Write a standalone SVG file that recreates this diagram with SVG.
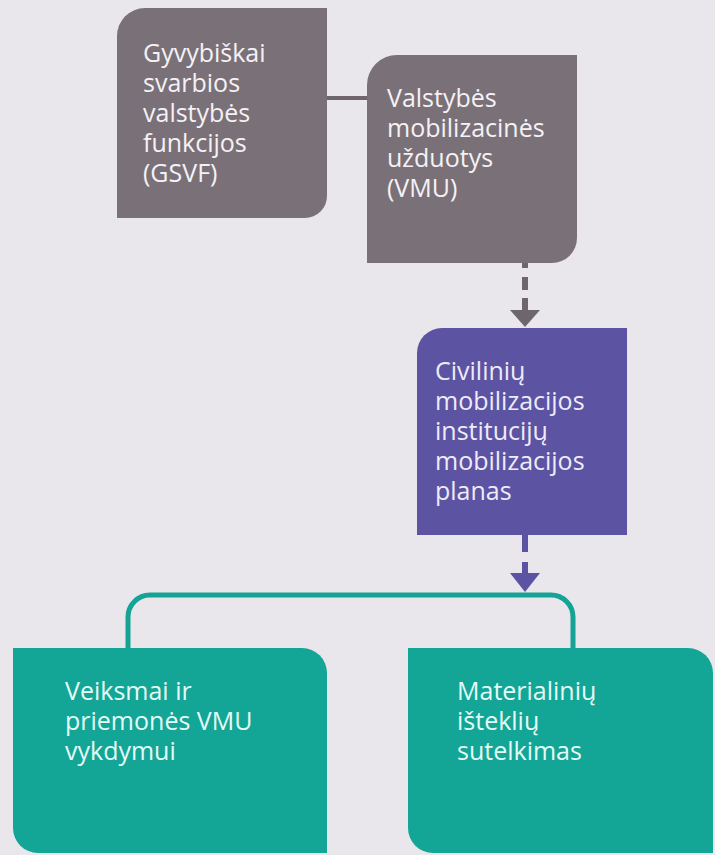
<svg xmlns="http://www.w3.org/2000/svg" width="715" height="855" viewBox="0 0 715 855">
<style>
.t{font-family:"Open Sans","Noto Sans","DejaVu Sans",sans-serif;font-size:25px;}
.tg{fill:#f5f1f5;}
.tp{fill:#eeebf8;}
.tt{fill:#e4fbf6;}
</style>
<rect x="0" y="0" width="715" height="855" fill="#e9e7eb"/>
<g id="connectors">
<path d="M327,98 H367" stroke="#6e666c" stroke-width="4" fill="none"/>
<path d="M525,263 V268 M525,277 V290 M525,298 V312" stroke="#6e666c" stroke-width="6" fill="none"/>
<polygon points="510,310 540,310 525,327" fill="#6e666c"/>
<path d="M525,535 V552 M525,562 V575" stroke="#5d53a3" stroke-width="6" fill="none"/>
<polygon points="510,573 540,573 525,592" fill="#5d53a3"/>
<path d="M128,648 V617 A22,22 0 0 1 150,595 H551 A22,22 0 0 1 573,617 V648" stroke="#15a396" stroke-width="5" fill="none"/>
</g>
<g id="gsvf">
<path d="M117,36 A28,28 0 0 1 145,8 H327 V196 A22,22 0 0 1 305,218 H117 Z" fill="#7a7178"/>
<text class="t tg"><tspan x="143" y="62">Gyvybiškai</tspan><tspan x="143" y="92">svarbios</tspan><tspan x="143" y="122">valstybės</tspan><tspan x="143" y="152">funkcijos</tspan><tspan x="143" y="182">(GSVF)</tspan></text>
</g>
<g id="vmu">
<path d="M367,85 A30,30 0 0 1 397,55 H577 V238 A25,25 0 0 1 552,263 H367 Z" fill="#7a7178"/>
<text class="t tg"><tspan x="387" y="107">Valstybės</tspan><tspan x="387" y="137">mobilizacinės</tspan><tspan x="387" y="167">užduotys</tspan><tspan x="387" y="197">(VMU)</tspan></text>
</g>
<g id="planas">
<path d="M417,353 A25,25 0 0 1 442,328 H627 V535 H417 Z" fill="#5d53a3"/>
<text class="t tp"><tspan x="435" y="380">Civilinių</tspan><tspan x="435" y="410">mobilizacijos</tspan><tspan x="435" y="440">institucijų</tspan><tspan x="435" y="470">mobilizacijos</tspan><tspan x="435" y="500">planas</tspan></text>
</g>
<g id="veiksmai">
<path d="M13,648 H302 A25,25 0 0 1 327,673 V853 H38 A25,25 0 0 1 13,828 Z" fill="#13a596"/>
<text class="t tt"><tspan x="65" y="700">Veiksmai ir</tspan><tspan x="65" y="730">priemonės VMU</tspan><tspan x="65" y="760">vykdymui</tspan></text>
</g>
<g id="materialiniu">
<path d="M408,648 H688 A25,25 0 0 1 713,673 V853 H433 A25,25 0 0 1 408,828 Z" fill="#13a596"/>
<text class="t tt"><tspan x="457" y="700">Materialinių</tspan><tspan x="457" y="730">išteklių</tspan><tspan x="457" y="760">sutelkimas</tspan></text>
</g>
</svg>
